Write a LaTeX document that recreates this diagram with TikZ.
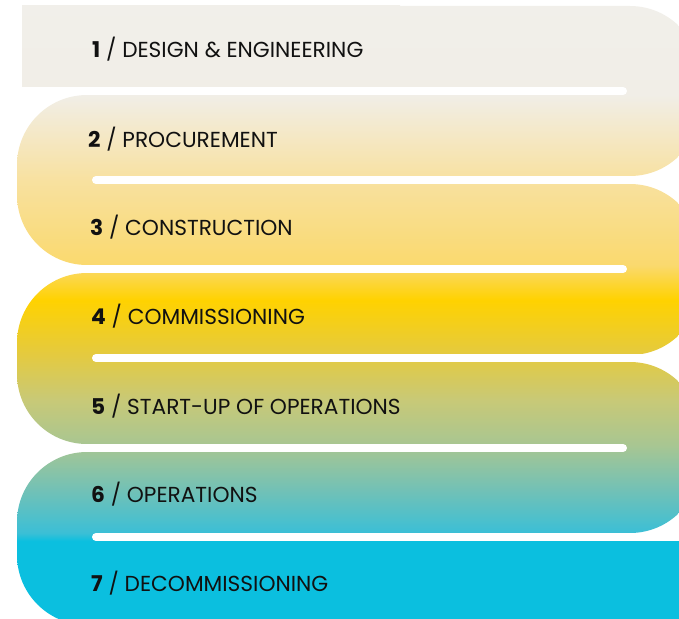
\documentclass[tikz,border=0pt]{standalone}
\usepackage{fontspec}
\setmainfont{Poppins}
\definecolor{cg}{HTML}{F1EFEA}
\definecolor{ca}{HTML}{F1EEE7}
\definecolor{cb}{HTML}{F8E1A0}
\definecolor{cc}{HTML}{FAD96E}
\definecolor{cd}{HTML}{FFD200}
\definecolor{ce}{HTML}{E4CA40}
\definecolor{cf}{HTML}{C8C977}
\definecolor{ch}{HTML}{A8C692}
\definecolor{ci}{HTML}{72C1B6}
\definecolor{cj}{HTML}{3BBFD6}
\definecolor{ck}{HTML}{0BBFDF}
\definecolor{ink}{HTML}{111111}
\pgfdeclareverticalshading{ribbon}{100bp}{color(0bp)=(ck); color(31.23bp)=(ck); color(31.88bp)=(cj); color(35.36bp)=(ci); color(39bp)=(ch); color(42.64bp)=(cf); color(46.28bp)=(ce); color(50.73bp)=(cd); color(53.56bp)=(cc); color(60.44bp)=(cb); color(67.31bp)=(ca); color(75bp)=(cg); color(100bp)=(cg)}
\tikzset{
  lbl/.style={anchor=west, inner sep=0pt, text=ink, font=\fontsize{21.7}{22}\selectfont},
  gap/.style={draw=white, line width=8pt, line cap=round},
}
\newcommand\ribbonpart[1]{\begin{scope}\clip #1; \shade[shading=ribbon] (0,0) rectangle (679,618);\end{scope}}
\begin{document}
\begin{tikzpicture}[x=1pt,y=-1pt]
\useasboundingbox (0,0) rectangle (679,618);
% row 1 left part
\ribbonpart{(22,6) rectangle (400,91)}
% right U-bends
\ribbonpart{[rounded corners=70pt] (150,6) rectangle (700,176)}
\ribbonpart{[rounded corners=70pt] (150,184) rectangle (700,355)}
\ribbonpart{[rounded corners=70pt] (150,362) rectangle (700,533)}
% left U-bends
\ribbonpart{[rounded corners=70pt] (17,95) rectangle (500,265)}
\ribbonpart{[rounded corners=70pt] (17,273) rectangle (500,444)}
\ribbonpart{[rounded corners=70pt] (17,452) rectangle (500,625)}
% row 7 right part
\ribbonpart{(150,541) rectangle (700,640)}
% white separators
\path[gap] (-10,91) -- (623,91);
\path[gap] (96,180) -- (700,180);
\path[gap] (-10,269) -- (623,269);
\path[gap] (96,358) -- (700,358);
\path[gap] (-10,448) -- (623,448);
\path[gap] (96,537) -- (700,537);
% labels
\node[lbl] (t1) at (92,49) {\textbf{1} / DESIGN \& ENGINEERING};
\node[lbl] (t2) at (88,139) {\textbf{2} / PROCUREMENT};
\node[lbl] (t3) at (90,227) {\textbf{3} / CONSTRUCTION};
\node[lbl] (t4) at (91,316) {\textbf{4} / COMMISSIONING};
\node[lbl] (t5) at (91,406) {\textbf{5} / START-UP OF OPERATIONS};
\node[lbl] (t6) at (91,494) {\textbf{6} / OPERATIONS};
\node[lbl] (t7) at (91,583) {\textbf{7} / DECOMMISSIONING};
\end{tikzpicture}
\end{document}
